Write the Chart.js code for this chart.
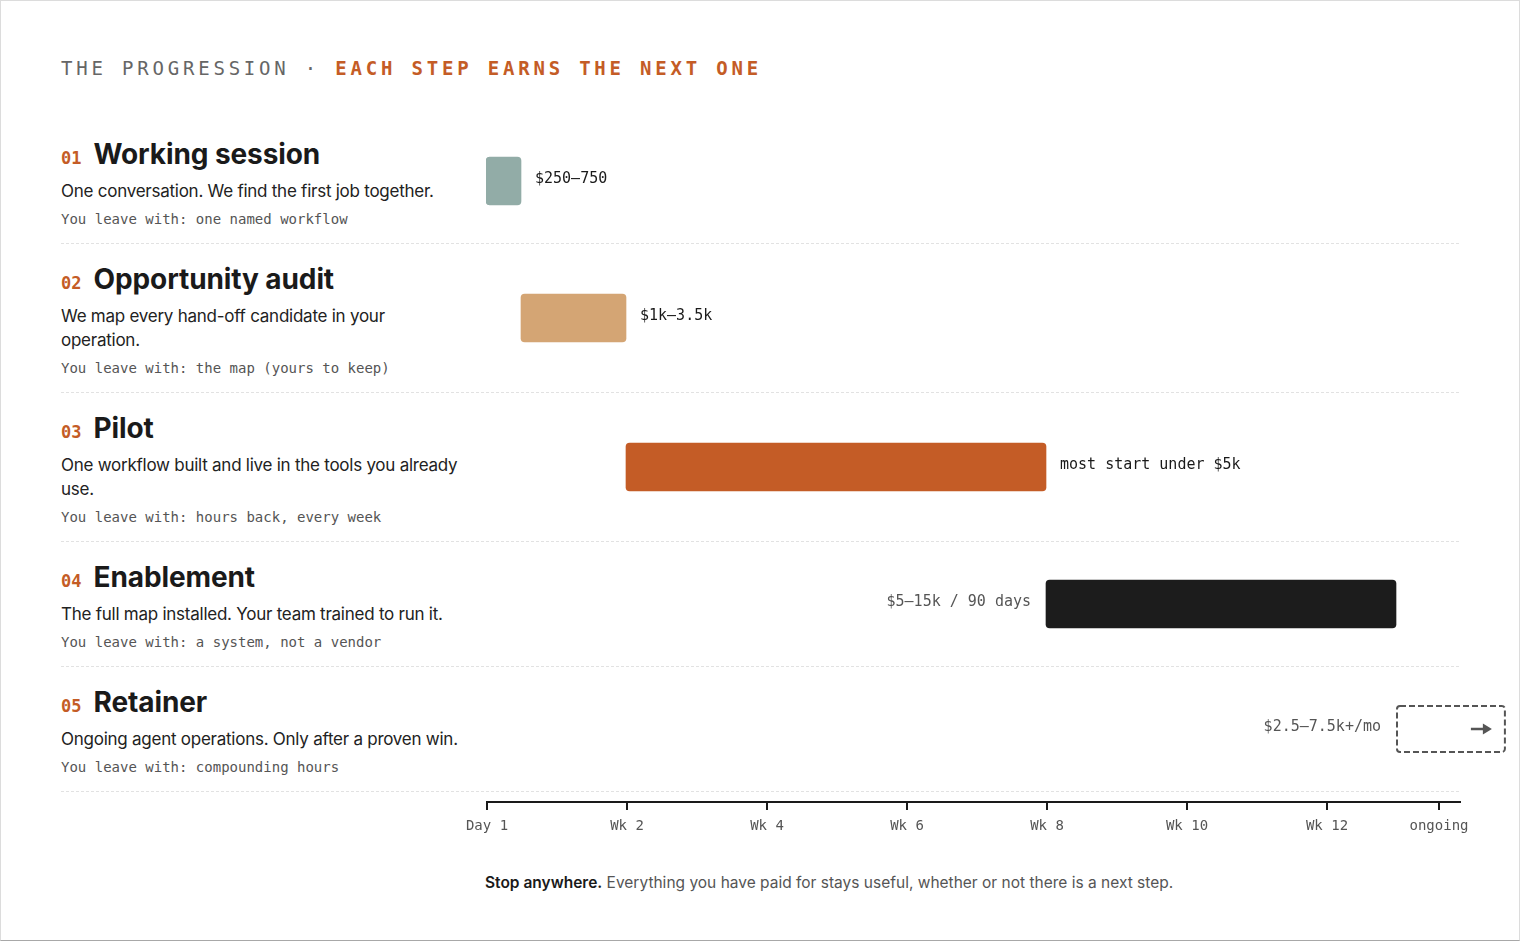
<!DOCTYPE html>
<html>
<head>
<meta charset="utf-8">
<script src="https://cdn.jsdelivr.net/npm/chart.js@4.4.1/dist/chart.umd.min.js"></script>
<style>
  html, body { margin: 0; padding: 0; background: #fff; }
  #page { position: relative; width: 1518px; height: 939px; border: 1px solid #dcdcdc; border-bottom-color: #a8a8a8; overflow: hidden; }
  #head { position: absolute; left: 60px; top: 58px; font: 19px/19px "DejaVu Sans Mono", monospace; letter-spacing: 3.8px; color: #666; white-space: nowrap; }
  #head b { color: #c45c26; font-weight: bold; }
  #rows { position: absolute; left: 60px; top: 118px; width: 1398px; }
  .row { display: flex; border-bottom: 1px dashed #e2e2e2; }
  .info { width: 425px; flex: none; padding: 18px 0 14px; box-sizing: border-box; }
  .title { line-height: 34px; height: 34px; white-space: nowrap; }
  .num { font: bold 17px/34px "DejaVu Sans Mono", monospace; color: #c45c26; margin-right: 12px; }
  .name { font: 700 28px/34px Inter, sans-serif; color: #1a1a1a; letter-spacing: -0.1px; }
  .desc { margin-top: 8px; max-width: 400px; font: 17px/24px Inter, sans-serif; letter-spacing: -0.25px; color: #222; }
  .leave { margin-top: 6px; font: 14px/20px "DejaVu Sans Mono", monospace; color: #555; }
  .plot { flex: 1; position: relative; }
  .plot .cv { position: absolute; left: 0; top: 0; bottom: 0; right: -61px; }
  #axis { position: absolute; left: 435px; top: 765px; width: 1080px; height: 80px; }
  #foot { position: absolute; left: 484px; top: 872px; font: 15.5px/20px Inter, sans-serif; color: #555; white-space: nowrap; }
  #foot b { color: #1a1a1a; font-weight: 600; }
</style>
</head>
<body>
<div id="page">
  <div id="head">THE PROGRESSION · <b>EACH STEP EARNS THE NEXT ONE</b></div>
  <div id="rows"></div>
  <div id="axis"><canvas id="axisChart"></canvas></div>
  <div id="foot"><b>Stop anywhere.</b> Everything you have paid for stays useful, whether or not there is a next step.</div>
</div>
<script>
// steps of the progression
var steps = ["01", "02", "03", "04", "05"];
var titles = ["Working session", "Opportunity audit", "Pilot", "Enablement", "Retainer"];
var descriptions = [
    "One conversation. We find the first job together.",
    "We map every hand-off candidate in your operation.",
    "One workflow built and live in the tools you already use.",
    "The full map installed. Your team trained to run it.",
    "Ongoing agent operations. Only after a proven win."
];
var leaveWith = ["one named workflow", "the map (yours to keep)", "hours back, every week", "a system, not a vendor", "compounding hours"];

// time span of each step, in weeks from day 1
var startWeek = [0, 0.5, 2, 8, 13];
var endWeek = [0.5, 2, 8, 13, 14.57];
var priceLabels = ["$250–750", "$1k–3.5k", "most start under $5k", "$5–15k / 90 days", "$2.5–7.5k+/mo"];

// time axis
var tickWeeks = [0, 2, 4, 6, 8, 10, 12, 13.6];
var tickLabels = ["Day 1", "Wk 2", "Wk 4", "Wk 6", "Wk 8", "Wk 10", "Wk 12", "ongoing"];
var axisEnd = 13.9;

// null = open-ended, drawn dashed
var barColors = ["#92aca7", "#d4a574", "#c45c26", "#1c1c1c", null];

var rowsEl = document.getElementById("rows");
steps.forEach(function(s, i) {
    var row = document.createElement("div");
    row.className = "row";
    row.innerHTML =
        '<div class="info"><div class="title"><span class="num">' + s + '</span><span class="name">' + titles[i] + '</span></div>' +
        '<div class="desc">' + descriptions[i] + '</div>' +
        '<div class="leave">You leave with: ' + leaveWith[i] + '</div></div>' +
        '<div class="plot"><div class="cv"><canvas id="row' + i + '"></canvas></div></div>';
    rowsEl.appendChild(row);
});

// price label next to the bar, dashed outline for the open-ended step
var barLabels = {
    id: "barLabels",
    afterDatasetsDraw: function(chart, args, opts) {
        var i = opts.row;
        var ctx = chart.ctx;
        var bar = chart.getDatasetMeta(0).data[0];
        var left = Math.min(bar.x, bar.base), right = Math.max(bar.x, bar.base);
        var top = bar.y - bar.height / 2, h = bar.height;
        ctx.save();
        if (!barColors[i]) {
            ctx.setLineDash([6, 3]);
            ctx.lineWidth = 2;
            ctx.strokeStyle = "#555";
            ctx.beginPath();
            ctx.roundRect(left + 1, top + 1, right - left - 2, h - 2, 3);
            ctx.stroke();
            ctx.setLineDash([]);
            // arrow
            var tip = right - 14, cy = bar.y;
            ctx.fillStyle = "#555";
            ctx.fillRect(tip - 21, cy - 1.25, 14, 2.5);
            ctx.beginPath();
            ctx.moveTo(tip, cy);
            ctx.lineTo(tip - 9, cy - 5.5);
            ctx.lineTo(tip - 9, cy + 5.5);
            ctx.closePath();
            ctx.fill();
        }
        ctx.font = "15px 'DejaVu Sans Mono'";
        ctx.textBaseline = "middle";
        var w = ctx.measureText(priceLabels[i]).width;
        if (right + 14 + w <= chart.chartArea.right) {
            ctx.fillStyle = "#1a1a1a";
            ctx.textAlign = "left";
            ctx.fillText(priceLabels[i], right + 14, bar.y - 1.5);
        } else {
            ctx.fillStyle = "#555";
            ctx.textAlign = "right";
            ctx.fillText(priceLabels[i], left - 15, bar.y - 1.5);
        }
        ctx.restore();
    }
};

steps.forEach(function(s, i) {
    new Chart(document.getElementById("row" + i), {
        type: "bar",
        data: {
            labels: [s],
            datasets: [{
                data: [[startWeek[i], endWeek[i]]],
                backgroundColor: barColors[i] || "rgba(0,0,0,0)",
                borderWidth: 0,
                borderRadius: 4,
                borderSkipped: false,
                barThickness: 48,
                clip: false
            }]
        },
        options: {
            indexAxis: "y",
            responsive: true,
            maintainAspectRatio: false,
            animation: false,
            events: [],
            layout: { padding: { left: 0, right: 61, top: 0, bottom: 0 } },
            scales: {
                x: { type: "linear", min: 0, max: axisEnd, display: false },
                y: { display: false }
            },
            plugins: {
                legend: { display: false },
                tooltip: { enabled: false },
                barLabels: { row: i }
            }
        },
        plugins: [barLabels]
    });
});

// shared time axis
new Chart(document.getElementById("axisChart"), {
    type: "line",
    data: { datasets: [] },
    options: {
        responsive: true,
        maintainAspectRatio: false,
        animation: false,
        events: [],
        layout: { padding: { left: 51, right: 56, top: 0, bottom: 8 } },
        scales: {
            x: {
                type: "linear",
                min: 0,
                max: axisEnd,
                afterBuildTicks: function(axis) {
                    axis.ticks = tickWeeks.map(function(v) { return { value: v }; });
                },
                grid: { drawOnChartArea: false, drawTicks: true, tickLength: 8, color: "#1a1a1a", lineWidth: 2 },
                border: { display: true, color: "#1a1a1a", width: 2 },
                ticks: {
                    autoSkip: false,
                    maxRotation: 0,
                    padding: 8,
                    color: "#555",
                    font: { family: "'DejaVu Sans Mono'", size: 14 },
                    callback: function(value, index) { return tickLabels[index]; }
                }
            },
            y: { display: false }
        },
        plugins: { legend: { display: false }, tooltip: { enabled: false } }
    }
});
</script>
</body>
</html>
